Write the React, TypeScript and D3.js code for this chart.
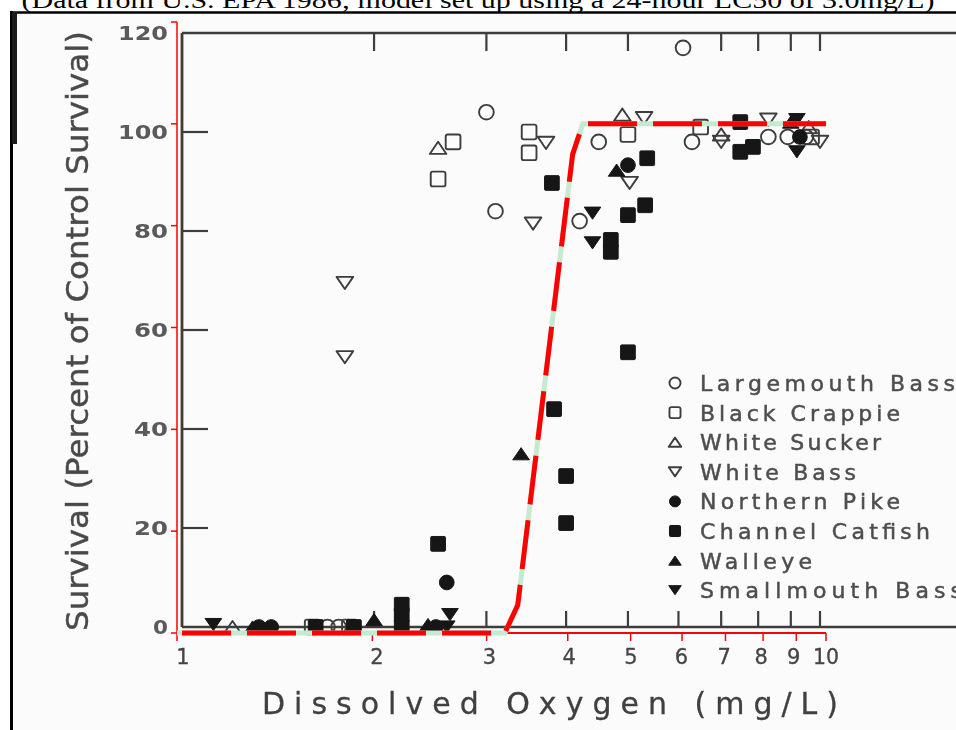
import React from "react";
import * as d3 from "d3";

const titleText = "(Data from U.S. EPA 1986; model set up using a 24-hour LC50 of 3.0mg/L)";
const xTitle = "Dissolved Oxygen (mg/L)";
const yTitle = "Survival (Percent of Control Survival)";

const xTicks = [1, 2, 3, 4, 5, 6, 7, 8, 9, 10];
const xTickLabels = ["1", "2", "3", "4", "5", "6", "7", "8", "9", "10"];
const topTicks = [2, 3, 4, 5, 7, 8, 9, 10];
const yTicks = [0, 20, 40, 60, 80, 100, 120];
const yTickLabels = ["0", "20", "40", "60", "80", "100", "120"];

// [DO mg/L, survival %]
const largemouthBass = [[1.69, 0], [1.76, 0], [3.0, 104], [3.1, 84], [4.2, 82], [4.5, 98], [6.1, 117], [6.3, 98], [8.3, 99], [8.9, 99], [9.5, 99]];
const blackCrappie = [[1.6, 0], [1.83, 0], [2.52, 90.5], [2.66, 98], [3.5, 100], [3.5, 95.8], [5.0, 99.5], [6.5, 101], [9.7, 99]];
const whiteSucker = [[1.2, 0], [2.52, 96.8], [4.9, 103.5], [7.0, 99.5], [9.6, 101]];
const whiteBass = [[1.8, 69.5], [1.8, 54.5], [3.55, 81.5], [3.72, 97.8], [5.03, 89.7], [5.3, 102.8], [7.0, 98], [8.3, 102.5], [10, 98]];
const northernPike = [[1.32, 0], [1.38, 0], [2.5, 0], [2.6, 9], [5.0, 93.3], [9.3, 99]];
const channelCatfish = [[1.62, 0], [1.86, 0], [2.21, 0], [2.21, 2.5], [2.21, 4.5], [2.52, 16.8], [3.8, 89.7], [3.83, 44], [4.0, 30.5], [4.0, 21], [4.7, 78.2], [4.7, 75.8], [5.0, 83.2], [5.0, 55.5], [5.32, 85.2], [5.36, 94.7], [7.5, 102], [7.5, 96], [7.85, 97]];
const walleye = [[1.29, 0], [2.0, 1.5], [2.43, 0.5], [3.4, 35], [4.8, 92.3], [9.0, 102]];
const smallmouthBass = [[1.12, 0.5], [2.6, 0], [2.63, 2.5], [4.4, 83.6], [4.4, 77.6], [9.2, 102.5], [9.2, 96]];

const speciesNames = ["Largemouth Bass", "Black Crappie", "White Sucker", "White Bass", "Northern Pike", "Channel Catfish", "Walleye", "Smallmouth Bass"];
const speciesShapes = ["circle", "square", "triUp", "triDown", "circle", "square", "triUp", "triDown"];
const speciesFilled = [false, false, false, false, true, true, true, true];
const speciesData = [largemouthBass, blackCrappie, whiteSucker, whiteBass, northernPike, channelCatfish, walleye, smallmouthBass];
const legendLengths = [255, 200, 181, 156, 200, 230, 112, 262];

const modelCurve = [[1, 0], [3.2, 0], [3.35, 5.5], [4.07, 94], [4.22, 100], [10, 100]];

const W = 956;
const H = 730;

// scanned figure scales
const sx = d3.scaleLog().domain([1, 10]).range([182, 820]);
const sy = d3.scaleLinear().domain([0, 120]).range([627, 33]);
// red overlay scales
const rx = d3.scaleLog().domain([1, 10]).range([177, 826]);
const ry = d3.scaleLinear().domain([0, 120]).range([633, 22]);

const INK = "#3d3d3d";
const FILL = "#161616";
const FONT = "'DejaVu Sans', sans-serif";

function Marker({ shape, filled, s }: { shape: string; filled: boolean; s: number }) {
  const fill = filled ? FILL : "none";
  const stroke = filled ? FILL : INK;
  const sw = filled ? 1 : 1.9;
  if (shape === "circle") {
    return <circle r={s * 0.46} fill={fill} stroke={stroke} strokeWidth={sw} />;
  }
  if (shape === "square") {
    const h = s * 0.46;
    return <rect x={-h} y={-h} width={2 * h} height={2 * h} rx={filled ? 1 : 2} fill={fill} stroke={stroke} strokeWidth={sw} />;
  }
  const w = s * 0.52;
  const hh = s * 0.38;
  const d = shape === "triUp"
    ? `M0,${-hh} L${w},${hh} L${-w},${hh} Z`
    : `M0,${hh} L${w},${-hh} L${-w},${-hh} Z`;
  return <path d={d} fill={fill} stroke={stroke} strokeWidth={sw} strokeLinejoin="round" />;
}

export default function App() {
  const line = d3.line<number[]>().x((d) => rx(d[0])).y((d) => ry(d[1]));
  const modelPath = line(modelCurve) || "";
  const legendX = 675;
  const legendY0 = 383;
  const legendStep = 29.6;

  return (
    <svg width={W} height={H} style={{ position: "absolute", left: 0, top: 0, background: "#fff" }}>
      <defs>
        <filter id="soft" x="-5%" y="-5%" width="110%" height="110%">
          <feGaussianBlur stdDeviation="0.55" />
        </filter>
      </defs>
      <rect x={0} y={0} width={W} height={H} fill="#ffffff" />
      {/* title (cut at top) */}
      <text x={W / 2} y={8} textAnchor="middle" fontFamily="'Liberation Serif', 'Times New Roman', serif" fontSize={24} textLength={913} lengthAdjust="spacingAndGlyphs" fill="#000">{titleText}</text>
      {/* page frame */}
      <rect x={12} y={13} width={W - 12} height={H - 13} fill="#fbfbfb" />
      <line x1={10} x2={W} y1={12.5} y2={12.5} stroke="#000" strokeWidth={2.5} />
      <line x1={11.5} x2={11.5} y1={11} y2={H} stroke="#000" strokeWidth={3} />
      <rect x={12} y={12} width={5} height={132} fill="#1a1a1a" />

      {/* scanned chart */}
      <g filter="url(#soft)">
        <line x1={sx(1)} x2={W} y1={sy(120)} y2={sy(120)} stroke={INK} strokeWidth={2.5} />
        <line x1={sx(1)} x2={W} y1={sy(0)} y2={sy(0)} stroke={INK} strokeWidth={2.5} />
        <line x1={sx(1)} x2={sx(1)} y1={sy(120)} y2={sy(0)} stroke={INK} strokeWidth={2.8} />
        {yTicks.filter((v) => v > 0 && v < 120).map((v) => (
          <line key={"yt" + v} x1={sx(1)} x2={sx(1) + 26} y1={sy(v)} y2={sy(v)} stroke={INK} strokeWidth={2.2} />
        ))}
        {xTicks.filter((v) => v > 1).map((v) => (
          <line key={"bt" + v} x1={sx(v)} x2={sx(v)} y1={sy(0)} y2={sy(0) - 16} stroke={INK} strokeWidth={2.2} />
        ))}
        {topTicks.map((v) => (
          <line key={"tt" + v} x1={sx(v)} x2={sx(v)} y1={sy(120)} y2={sy(120) + 18} stroke={INK} strokeWidth={2.2} />
        ))}
        {yTicks.map((v, i) => {
          const lab = yTickLabels[i];
          const len = lab.length === 3 ? 50 : lab.length === 2 ? 34 : 15;
          return (
            <text key={"yl" + v} x={168} y={sy(v) + 7} textAnchor="end" fontFamily={FONT} fontSize={20} fontWeight="bold" fill="#5a5a5a" textLength={len} lengthAdjust="spacingAndGlyphs">{lab}</text>
          );
        })}
        {xTicks.map((v, i) => (
          <text key={"xl" + v} x={sx(v) + (v === 10 ? 6 : v === 1 ? 1 : 3)} y={664} textAnchor="middle" fontFamily={FONT} fontSize={21} fill="#444" stroke="#444" strokeWidth={0.3} textLength={v === 10 ? 26 : undefined} lengthAdjust="spacingAndGlyphs">{xTickLabels[i]}</text>
        ))}
        <text transform="translate(88,331) rotate(-90)" textAnchor="middle" fontFamily={FONT} fontSize={30} fill="#4a4a4a" stroke="#4a4a4a" strokeWidth={0.4} textLength={600} lengthAdjust="spacingAndGlyphs">{yTitle}</text>
        <text x={550} y={714} textAnchor="middle" fontFamily={FONT} fontSize={30} fill="#3f3f3f" stroke="#3f3f3f" strokeWidth={0.3} textLength={576} lengthAdjust="spacing">{xTitle}</text>

        {speciesData.map((arr, si) => (
          <g key={"s" + si}>
            {arr.map((d, j) => (
              <g key={j} transform={`translate(${sx(d[0])},${sy(d[1])})`}>
                <Marker shape={speciesShapes[si]} filled={speciesFilled[si]} s={16} />
              </g>
            ))}
          </g>
        ))}

        {speciesNames.map((name, i) => (
          <g key={"lg" + i} transform={`translate(0,${legendY0 + i * legendStep})`}>
            <g transform={`translate(${legendX},0)`}>
              <Marker shape={speciesShapes[i]} filled={speciesFilled[i]} s={12} />
            </g>
            <text x={700} y={8} fontFamily={FONT} fontSize={22} fill="#4e4e4e" stroke="#4e4e4e" strokeWidth={0.5} textLength={legendLengths[i]} lengthAdjust="spacing">{name}</text>
          </g>
        ))}
      </g>

      {/* red overlay axes */}
      <line x1={rx(1)} x2={rx(1)} y1={ry(0)} y2={ry(120)} stroke="#ff0000" strokeWidth={1.5} />
      {yTicks.map((v) => (
        <line key={"ryt" + v} x1={rx(1) - 6} x2={rx(1)} y1={ry(v)} y2={ry(v)} stroke="#ff0000" strokeWidth={1.5} />
      ))}
      <line x1={rx(1)} x2={rx(10)} y1={ry(0)} y2={ry(0)} stroke="#ff0000" strokeWidth={2} />
      {xTicks.map((v) => (
        <line key={"rxt" + v} x1={rx(v)} x2={rx(v)} y1={ry(0)} y2={ry(0) + 8} stroke="#ff0000" strokeWidth={1.5} />
      ))}

      {/* model curve */}
      <path d={modelPath} fill="none" stroke="#c4ebcf" strokeWidth={5} strokeLinejoin="miter" />
      <path d={modelPath} fill="none" stroke="#ff0000" strokeWidth={5} strokeDasharray="49 16" strokeDashoffset={-5} strokeLinejoin="miter" />
    </svg>
  );
}
